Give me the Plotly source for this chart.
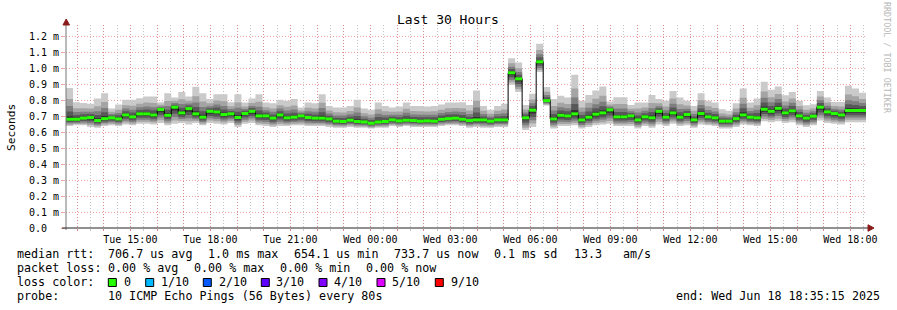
import plotly.graph_objects as go
import pandas as pd

# ---------------- data (milliseconds) ----------------
median_rtt = [
    0.683, 0.683, 0.690, 0.694, 0.675, 0.687, 0.692, 0.685, 0.710, 0.698, 0.717, 0.717, 0.710, 0.744,
    0.708, 0.759, 0.723, 0.750, 0.717, 0.696, 0.733, 0.729, 0.713, 0.717, 0.694, 0.719, 0.733, 0.704,
    0.704, 0.690, 0.710, 0.692, 0.696, 0.704, 0.694, 0.690, 0.690, 0.685, 0.671, 0.669, 0.677, 0.669,
    0.666, 0.658, 0.666, 0.669, 0.679, 0.673, 0.677, 0.675, 0.671, 0.673, 0.671, 0.683, 0.687, 0.690, 0.683,
    0.675, 0.679, 0.679, 0.671, 0.679, 0.679, 0.975, 0.937, 0.692, 0.740, 1.044, 0.800, 0.685, 0.708,
    0.704, 0.717, 0.679, 0.696, 0.715, 0.723, 0.742, 0.698, 0.698, 0.704, 0.679, 0.698, 0.692, 0.733,
    0.696, 0.723, 0.696, 0.713, 0.679, 0.719, 0.698, 0.692, 0.671, 0.671, 0.687, 0.710, 0.696, 0.692,
    0.746, 0.733, 0.752, 0.723, 0.736, 0.704, 0.690, 0.702, 0.759, 0.729, 0.719, 0.710, 0.738, 0.738, 0.738,
]
smoke_max = [
    0.880, 0.790, 0.785, 0.780, 0.813, 0.847, 0.750, 0.775, 0.805, 0.805, 0.815, 0.826, 0.826, 0.790,
    0.847, 0.820, 0.855, 0.826, 0.887, 0.847, 0.810, 0.840, 0.840, 0.790, 0.840, 0.788, 0.813, 0.840,
    0.788, 0.784, 0.805, 0.800, 0.810, 0.757, 0.788, 0.784, 0.840, 0.767, 0.757, 0.757, 0.767, 0.805,
    0.750, 0.742, 0.788, 0.767, 0.757, 0.763, 0.788, 0.767, 0.767, 0.763, 0.767, 0.775, 0.788, 0.788, 0.790,
    0.773, 0.863, 0.767, 0.742, 0.767, 0.780, 1.067, 1.040, 0.773, 0.843, 1.157, 0.885, 0.810, 0.830,
    0.820, 0.962, 0.800, 0.836, 0.863, 0.889, 0.794, 0.822, 0.822, 0.773, 0.788, 0.788, 0.836, 0.810,
    0.800, 0.861, 0.820, 0.800, 0.767, 0.847, 0.800, 0.788, 0.746, 0.736, 0.784, 0.876, 0.788, 0.813,
    0.918, 0.868, 0.889, 0.834, 0.855, 0.800, 0.771, 0.778, 0.861, 0.820, 0.792, 0.792, 0.893, 0.876, 0.850,
]
smoke_min = [
    0.640, 0.645, 0.645, 0.635, 0.630, 0.640, 0.645, 0.640, 0.650, 0.645, 0.655, 0.655, 0.650, 0.660,
    0.645, 0.655, 0.660, 0.650, 0.660, 0.645, 0.660, 0.655, 0.650, 0.660, 0.635, 0.655, 0.660, 0.645,
    0.640, 0.635, 0.640, 0.640, 0.645, 0.645, 0.640, 0.640, 0.640, 0.635, 0.630, 0.630, 0.635, 0.630,
    0.630, 0.625, 0.630, 0.630, 0.640, 0.635, 0.640, 0.635, 0.635, 0.635, 0.635, 0.640, 0.645, 0.645, 0.640,
    0.630, 0.635, 0.630, 0.630, 0.635, 0.635, 0.900, 0.855, 0.615, 0.635, 0.980, 0.770, 0.625, 0.640,
    0.640, 0.645, 0.625, 0.635, 0.645, 0.650, 0.655, 0.640, 0.640, 0.640, 0.625, 0.640, 0.630, 0.650,
    0.640, 0.655, 0.640, 0.645, 0.630, 0.650, 0.645, 0.640, 0.625, 0.625, 0.635, 0.650, 0.645, 0.640,
    0.670, 0.665, 0.670, 0.660, 0.665, 0.645, 0.635, 0.645, 0.675, 0.660, 0.655, 0.650, 0.665, 0.665, 0.665,
]
start_time = "2025-06-17 12:35:15"
end_time = "2025-06-18 18:35:15"

y_tick_values = [0.0, 0.1, 0.2, 0.3, 0.4, 0.5, 0.6, 0.7, 0.8, 0.9, 1.0, 1.1, 1.2]
y_tick_labels = ["0.0\u00a0\u00a0", "0.1 m", "0.2 m", "0.3 m", "0.4 m", "0.5 m", "0.6 m", "0.7 m",
                 "0.8 m", "0.9 m", "1.0 m", "1.1 m", "1.2 m"]
x_label_times = ["2025-06-17 15:00", "2025-06-17 18:00", "2025-06-17 21:00", "2025-06-18 00:00",
                 "2025-06-18 03:00", "2025-06-18 06:00", "2025-06-18 09:00", "2025-06-18 12:00",
                 "2025-06-18 15:00", "2025-06-18 18:00"]
x_labels = ["Tue 15:00", "Tue 18:00", "Tue 21:00", "Wed 00:00", "Wed 03:00", "Wed 06:00",
            "Wed 09:00", "Wed 12:00", "Wed 15:00", "Wed 18:00"]

loss_labels = ["0", "1/10", "2/10", "3/10", "4/10", "5/10", "9/10"]
loss_colors = ["#26ff00", "#00b8ff", "#0059ff", "#5e00ff", "#7e00ff", "#dd00ff", "#ff0000"]

# ---------------- layout geometry (pixels) ----------------
W, H = 897, 310
L, R, T, B = 66, 866, 25, 228
MONO = "DejaVu Sans Mono"


def px_x(px):
    return (px - L) / (R - L)


def px_y(py):
    return (B - py) / (B - T)


n = len(median_rtt)
edges = pd.date_range(start_time, end_time, periods=n + 1)
x_step = list(edges[:-1]) + [edges[-1]]


def stepped(vals):
    return list(vals) + [vals[-1]]


fig = go.Figure()

# smoke bands (outer -> inner)
shade_colors = ["#cacaca", "#a4a4a4", "#7e7e7e", "#585858", "#323232"]
low_frac = [1.0, 0.8, 0.6, 0.4, 0.2]
high_frac = [1.0, 0.65, 0.42, 0.25, 0.1]
for col, lf, hf in zip(shade_colors, low_frac, high_frac):
    lo_edge = [m - (m - lo) * lf for m, lo in zip(median_rtt, smoke_min)]
    hi_edge = [m + (hi - m) * hf for m, hi in zip(median_rtt, smoke_max)]
    fig.add_trace(go.Scatter(x=x_step, y=stepped(lo_edge), mode="lines", line=dict(width=0, shape="hv"),
                             showlegend=False, hoverinfo="skip"))
    fig.add_trace(go.Scatter(x=x_step, y=stepped(hi_edge), mode="lines", line=dict(width=0, shape="hv"),
                             fill="tonexty", fillcolor=col, showlegend=False, hoverinfo="skip"))

# black median line
fig.add_trace(go.Scatter(x=x_step, y=stepped(median_rtt), mode="lines",
                         line=dict(color="#000000", width=1, shape="hv"),
                         showlegend=False, hoverinfo="skip"))

# green loss-colour median bars
gx, gy = [], []
for i, m in enumerate(median_rtt):
    gx += [edges[i], edges[i + 1], None]
    gy += [m, m, None]
fig.add_trace(go.Scatter(x=gx, y=gy, mode="lines", line=dict(color=loss_colors[0], width=3),
                         showlegend=False, hoverinfo="skip"))

hour_ticks = list(pd.date_range("2025-06-17 13:00", "2025-06-18 18:00", freq="h"))
label_map = dict(zip(pd.to_datetime(x_label_times), x_labels))
hour_text = [label_map.get(t, "") for t in hour_ticks]

RED_GRID = "rgba(235,90,90,0.55)"
GRAY_GRID = "rgba(150,150,150,0.55)"

fig.update_layout(
    width=W, height=H,
    margin=dict(l=L, r=W - R, t=T, b=H - B, pad=0),
    paper_bgcolor="#ffffff", plot_bgcolor="#ffffff",
    font=dict(family=MONO, size=10, color="#000000"),
    showlegend=False,
    xaxis=dict(
        range=[edges[0], edges[-1]], type="date",
        tickmode="array", tickvals=hour_ticks, ticktext=hour_text,
        showgrid=True, gridcolor=RED_GRID, griddash="1px,2px", gridwidth=1,
        ticks="outside", ticklen=2, tickcolor=RED_GRID, tickwidth=1,
        tickfont=dict(family=MONO, size=10, color="#000000"),
        showline=False, zeroline=False,
        minor=dict(dtick=1800000, tick0="2025-06-17 12:30", showgrid=True, gridcolor=GRAY_GRID,
                   griddash="1px,2px", ticks="outside", ticklen=2, tickcolor=GRAY_GRID),
    ),
    yaxis=dict(
        range=[0, (B - T) / 159.2], tickmode="array", tickvals=y_tick_values, ticktext=y_tick_labels,
        showgrid=True, gridcolor=RED_GRID, griddash="1px,2px", gridwidth=1,
        ticks="outside", ticklen=4, tickcolor=RED_GRID,
        tickfont=dict(family=MONO, size=10, color="#000000"),
        showline=False, zeroline=False,
    ),
)

shapes = []
# axes
shapes.append(dict(type="line", xref="paper", yref="paper", x0=0, x1=0, y0=px_y(B + 2), y1=px_y(21),
                   line=dict(color="#777777", width=1), layer="above"))
shapes.append(dict(type="line", xref="paper", yref="paper", x0=px_x(62), x1=px_x(872), y0=0, y1=0,
                   line=dict(color="#222222", width=1), layer="above"))
# arrows
shapes.append(dict(type="path", xref="paper", yref="paper",
                   path=f"M {px_x(63)} {px_y(25)} L {px_x(69.5)} {px_y(25)} L {px_x(66.2)} {px_y(19)} Z",
                   fillcolor="#8b1a1a", line=dict(color="#8b1a1a", width=1), layer="above"))
shapes.append(dict(type="path", xref="paper", yref="paper",
                   path=f"M {px_x(868)} {px_y(224.8)} L {px_x(868)} {px_y(231.3)} L {px_x(874)} {px_y(228)} Z",
                   fillcolor="#8b1a1a", line=dict(color="#8b1a1a", width=1), layer="above"))

# loss colour boxes
box_x = [108.3, 145.7, 203.3, 261.3, 319.0, 377.0, 435.3]
label_x = [123.3, 160.0, 217.7, 275.3, 333.3, 391.3, 450.0]
for bx, col in zip(box_x, loss_colors):
    shapes.append(dict(type="rect", xref="paper", yref="paper",
                       x0=px_x(bx), x1=px_x(bx + 8), y0=px_y(278.5), y1=px_y(286.5),
                       fillcolor=col, line=dict(color="#000000", width=1), layer="above"))
fig.update_layout(shapes=shapes)

ann = []


def text(px, py, s, size=11.7, anchor="left", color="#000000", angle=0, family=MONO):
    ann.append(dict(xref="paper", yref="paper", x=px_x(px), y=px_y(py), text=s.replace(" ", "\u00a0"),
                    showarrow=False, xanchor=anchor, yanchor="middle", textangle=angle,
                    font=dict(family=family, size=size, color=color), borderpad=0))


text(448, 19, "Last 30 Hours", size=13, anchor="center")
text(11, 127, "Seconds", size=11.2, anchor="center", angle=-90)
text(887, 58, "RRDTOOL / TOBI OETIKER", size=8.4, anchor="center", angle=90, color="#b8b8b8")

row1 = [(16, "median rtt:"), (107.3, "706.7 us avg"), (207.3, "1.0 ms max"), (293.3, "654.1 us min"),
        (393.3, "733.7 us now"), (493.3, "0.1 ms sd"), (572.7, "13.3"), (621.7, "am/s")]
for px, s in row1:
    text(px, 254.3, s)
row2 = [(16, "packet loss:"), (107.3, "0.00 % avg"), (193.3, "0.00 % max"), (279.3, "0.00 % min"),
        (365.0, "0.00 % now")]
for px, s in row2:
    text(px, 268.3, s)
text(16, 282.3, "loss color:")
for lx, s in zip(label_x, loss_labels):
    text(lx, 282.3, s)
text(16, 296, "probe:")
text(107.3, 296, "10 ICMP Echo Pings (56 Bytes) every 80s")
text(881, 296, "end: Wed Jun 18 18:35:15 2025", anchor="right")

fig.update_layout(annotations=ann)
fig.write_html("out.html")
